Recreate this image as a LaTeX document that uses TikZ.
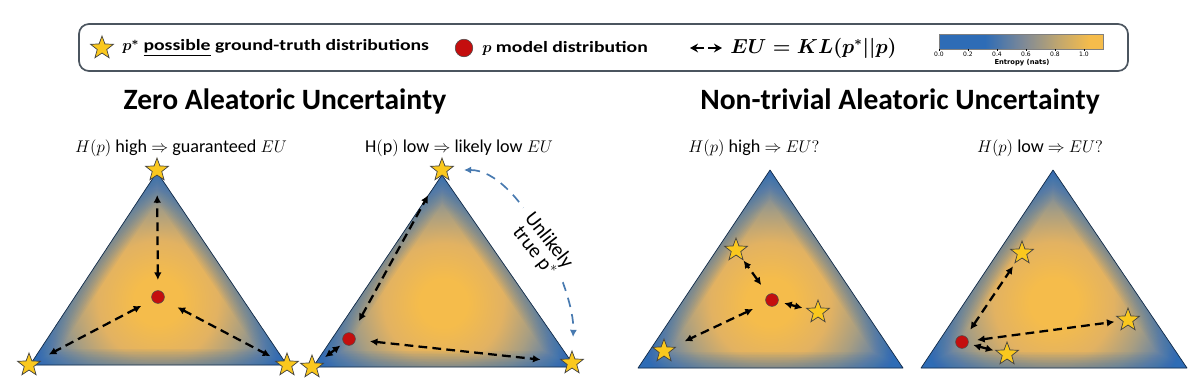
\documentclass[tikz,border=0pt]{standalone}
\usepackage{fontspec}
\usepackage{amsmath,bm}
\setmainfont{Carlito}
\newfontfamily\legfont[FakeStretch=1.25]{Carlito}
\newfontfamily\mplfont{DejaVu Sans}
\usetikzlibrary{shapes.geometric,arrows.meta,positioning}

\definecolor{simplexblue}{RGB}{46,108,182}
\definecolor{simplexsteel}{RGB}{95,128,168}
\definecolor{simplexgrey}{RGB}{168,158,130}
\definecolor{simplextan}{RGB}{226,178,98}
\definecolor{simplexorange}{RGB}{245,188,75}
\definecolor{barmid}{RGB}{128,138,150}
\definecolor{bartan}{RGB}{196,168,108}
\definecolor{staryellow}{RGB}{250,200,30}
\definecolor{dotred}{RGB}{196,14,14}
\definecolor{arcblue}{RGB}{72,122,176}
\definecolor{boxgrey}{RGB}{75,85,95}

% shading box: the path fills the inner 50bp
\pgfdeclareradialshading{entropy}{\pgfpoint{0bp}{0bp}}{color(0bp)=(simplexorange); color(4bp)=(simplexorange); color(10bp)=(simplextan); color(15bp)=(simplexgrey); color(20bp)=(simplexsteel); color(23bp)=(simplexblue); color(50bp)=(simplexblue)}
\pgfdeclarehorizontalshading{entropybar}{100bp}{color(0bp)=(simplexblue); color(39bp)=(simplexblue); color(51bp)=(barmid); color(62bp)=(bartan); color(71bp)=(simplexorange); color(100bp)=(simplexorange)}

\tikzset{
  gtstar/.style={star, star points=5, star point ratio=2.4, fill=staryellow, draw=black!75, line width=0.5pt, minimum size=6mm, inner sep=0pt},
  modeldot/.style={circle, fill=dotred, draw=black!70, line width=0.4pt, minimum size=3.2mm, inner sep=0pt},
  eu/.style={{Latex[length=1.9mm,width=1.9mm]}-{Latex[length=1.9mm,width=1.9mm]}, line width=1.6pt, dash pattern=on 2.2mm off 1.3mm},
  unlikely/.style={{Latex[length=1.8mm,width=1.8mm]}-{Latex[length=1.8mm,width=1.8mm]}, arcblue, line width=1.2pt, dash pattern=on 2.4mm off 1.8mm},
  legarrow/.style={-{Stealth[length=2mm,width=2.2mm]}, line width=1.6pt},
  simplexedge/.style={draw=black!60!simplexblue, line width=0.5pt, line join=round},
  title/.style={font=\fontsize{21}{24}\selectfont\bfseries},
  subtitle/.style={font=\fontsize{12.9}{15}\selectfont},
  legtext/.style={font=\legfont\fontsize{11.2}{13}\selectfont\bfseries, anchor=west, inner sep=0pt},
  legmath/.style={font=\fontsize{13.5}{14}\selectfont\boldmath, anchor=west, inner sep=0pt},
  ticklabel/.style={font=\mplfont\fontsize{4.3}{5}\selectfont, inner sep=0pt}
}

\begin{document}
\begin{tikzpicture}[x=0.025cm,y=-0.025cm]
\useasboundingbox (0,0) rectangle (1199,383);

% legend
\draw[boxgrey, line width=1.2pt, rounded corners=2.5mm] (79,24) rectangle (1128,71);
\node[gtstar] (legstar) at (102,48) {};
\node[legtext] (legstartext) at (122,48) {$\bm{p}^{\bm{*}}$ \underline{possible} ground-truth distributions};
\node[modeldot, minimum size=4.4mm] (legdot) at (464,48) {};
\node[legtext] (legdottext) at (482,48) {$\bm{p}$ model distribution};
\coordinate (leglfrom) at (704,48);
\coordinate (leglto) at (690,48);
\coordinate (legrfrom) at (708,48);
\coordinate (legrto) at (722,48);
\draw[legarrow] (leglfrom) -- (leglto);
\draw[legarrow] (legrfrom) -- (legrto);
\node[legmath] (legeu) at (730,48) {$EU = KL(p^{*}\vert\vert p)$};

% colour bar
\shade[shading=entropybar, draw=black!50, line width=0.3pt] (939,34) rectangle (1103,49);
\foreach \t [count=\i from 0] in {0.0,0.2,0.4,0.6,0.8,1.0}{
  \draw[line width=0.3pt] ({939+29*\i},49) -- ({939+29*\i},51);
  \node[ticklabel] (tick\i) at ({939+29*\i},54) {\t};
}
\node[ticklabel, font=\mplfont\bfseries\fontsize{4.8}{5}\selectfont] (cbarlabel) at (1022,63) {Entropy (nats)};

% titles
\node[title] (zerotitle) at (285,101) {Zero Aleatoric Uncertainty};
\node[title] (nontitle) at (900,101) {Non-trivial Aleatoric Uncertainty};
\node[subtitle] (sub1) at (181,148) {$H(p)$ high $\Rightarrow$ guaranteed $EU$};
\node[subtitle] (sub2) at (459,148) {$\mathrm{H(p)}$ low $\Rightarrow$ likely low $EU$};
\node[subtitle] (sub3) at (754,148) {$H(p)$ high $\Rightarrow$ $EU?$};
\node[subtitle] (sub4) at (1040,148) {$H(p)$ low $\Rightarrow$ $EU?$};

% simplices
\foreach \lx/\rx/\tx/\by/\ty in {30/287/157/365/172, 313/575/442/367/175, 638/903/770/368/170, 921/1187/1053/368/170}{
  \begin{scope}
    \clip (\lx,\by) -- (\rx,\by) -- (\tx,\ty) -- cycle;
    \shade[shading=entropy] ({(\lx+\rx+\tx)/3},{(2*\by+\ty)/3}) circle (37.5mm);
    \foreach \w in {0.8,1.6,2.4,3.2,4.0,4.8,5.6,6.4,7.2,8.0}
      \draw[simplexblue, line width=\w mm, opacity=0.06] (\lx,\by) -- (\rx,\by) -- (\tx,\ty) -- cycle;
  \end{scope}
  \draw[simplexedge] (\lx,\by) -- (\rx,\by) -- (\tx,\ty) -- cycle;
}

% zero aleatoric, high entropy
\node[modeldot] (p1) at (158,297) {};
\node[gtstar] (s1a) at (157,170) {};
\node[gtstar] (s1b) at (29,365) {};
\node[gtstar] (s1c) at (287,365) {};
\draw[eu, shorten <=4.25mm, shorten >=6.25mm] (p1.center) -- (s1a.center);
\draw[eu, shorten <=4.7mm, shorten >=5.6mm] (p1.center) -- (s1b.center);
\draw[eu, shorten <=5.5mm, shorten >=4.7mm] (p1.center) -- (s1c.center);

% zero aleatoric, low entropy
\node[modeldot] (p2) at (349,339) {};
\node[gtstar] (s2a) at (442,170) {};
\node[gtstar] (s2b) at (312,367) {};
\node[gtstar] (s2c) at (572,363) {};
\draw[eu, shorten <=5.1mm, shorten >=7.2mm] (p2.center) -- (s2a.center);
\draw[eu, shorten <=2.7mm, shorten >=4.1mm] (p2.center) -- (s2b.center);
\draw[eu, shorten <=5.25mm, shorten >=7.9mm] (p2.center) -- (s2c.center);
\draw[unlikely, shorten <=5.5mm, shorten >=6.5mm] (s2a.center) .. controls +(78,0) and +(3,-73) .. (s2c.center)
  node[pos=0.53, rotate=-52, fill=white, text=black, align=center, inner xsep=6pt, inner ysep=0pt, font=\fontsize{14.5}{13}\selectfont] (unlikelylabel) {Unlikely\\true p$^*$};

% non-trivial aleatoric, high entropy
\node[modeldot] (p3) at (772,300) {};
\node[gtstar] (s3a) at (736,250) {};
\node[gtstar] (s3b) at (818,312) {};
\node[gtstar] (s3c) at (664,351) {};
\draw[eu, shorten <=4.6mm, shorten >=3.25mm] (p3.center) -- (s3a.center);
\draw[eu, shorten <=3.15mm, shorten >=4mm] (p3.center) -- (s3b.center);
\draw[eu, shorten <=5.25mm, shorten >=5.7mm] (p3.center) -- (s3c.center);

% non-trivial aleatoric, low entropy
\node[modeldot] (p4) at (962,342) {};
\node[gtstar] (s4a) at (1022,253) {};
\node[gtstar] (s4b) at (1128,320) {};
\node[gtstar] (s4c) at (1007,354) {};
\draw[eu, shorten <=3.7mm, shorten >=4mm] (p4.center) -- (s4a.center);
\draw[eu, shorten <=3.8mm, shorten >=3.4mm] (p4.center) -- (s4b.center);
\draw[eu, shorten <=2.9mm, shorten >=3.5mm] (p4.center) -- (s4c.center);
\end{tikzpicture}
\end{document}
